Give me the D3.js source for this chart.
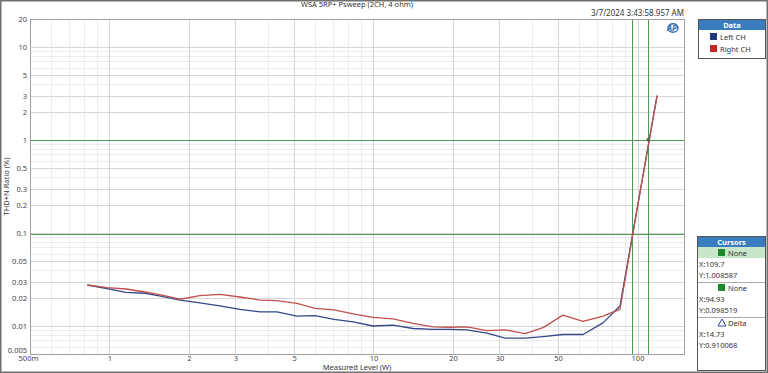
<!DOCTYPE html>
<html><head><meta charset="utf-8">
<script src="https://cdn.jsdelivr.net/npm/d3@7"></script>
<style>
body{margin:0;background:#fff;}
svg{display:block;font-family:"Noto Sans","Open Sans",sans-serif;}
</style></head>
<body>
<svg id="c" width="768" height="373"></svg>
<script>
// ---- data ----
const power = [0.824, 0.979, 1.155, 1.364, 1.581, 1.85, 2.2, 2.62, 3.12, 3.72, 4.31, 5.13, 6.0, 7.09, 8.37, 9.96, 11.86, 14.12, 16.81, 19.49, 22.6, 26.9, 31.5, 37.5, 43.9, 52.2, 62.2, 74.0, 85.8, 99.6, 118.6];
const leftCH = [0.0276, 0.0253, 0.0230, 0.0225, 0.0208, 0.0190, 0.0177, 0.0165, 0.0151, 0.0142, 0.0142, 0.0128, 0.0129, 0.0118, 0.0111, 0.0100, 0.0102, 0.0094, 0.0092, 0.0092, 0.0091, 0.0084, 0.0074, 0.0074, 0.0077, 0.0081, 0.0081, 0.0108, 0.0164, 0.18, 3.0];
const rightCH = [0.0276, 0.0259, 0.0250, 0.0232, 0.0215, 0.0194, 0.0212, 0.0219, 0.0205, 0.0190, 0.0187, 0.0175, 0.0155, 0.0149, 0.0135, 0.0124, 0.0119, 0.0107, 0.0098, 0.0097, 0.0098, 0.0089, 0.0091, 0.0083, 0.0096, 0.0131, 0.0112, 0.0128, 0.0151, 0.18, 3.0];
const seriesNames = ["Left CH", "Right CH"];
const xTickVals = [0.5, 1, 2, 3, 5, 10, 20, 30, 50, 100];
const xTickLabels = ["500m", "1", "2", "3", "5", "10", "20", "30", "50", "100"];
const yTickVals = [20, 10, 5, 3, 2, 1, 0.5, 0.3, 0.2, 0.1, 0.05, 0.03, 0.02, 0.01, 0.005];
const yTickLabels = ["20", "10", "5", "3", "2", "1", "0.5", "0.3", "0.2", "0.1", "0.05", "0.03", "0.02", "0.01", "0.005"];
const cursorX = [109.7, 94.93];
const cursorY = [1.008587, 0.098519];
const cursorRows = [
  {type:"head", text:"None", hl:true}, {type:"val", text:"X:109.7"}, {type:"val", text:"Y:1.008587"},
  {type:"head", text:"None"}, {type:"val", text:"X:94.93"}, {type:"val", text:"Y:0.098519"},
  {type:"delta", text:"Delta"}, {type:"val", text:"X:14.73"}, {type:"val", text:"Y:0.910068"}
];
const title = "WSA 5RP+ Psweep (2CH, 4 ohm)";
const stamp = "3/7/2024 3:43:58.957 AM";

// ---- layout ----
const L = 30, R = 684, T = 19, B = 354;
const svg = d3.select("#c");
const x = d3.scaleLog().domain([0.5, 150]).range([L, R]);
const y = d3.scaleLog().domain([0.005, 20]).range([B, T]);
const colors = ["#34488a", "#c0504d"];
const swatch = ["#1f3a7a", "#c62828"];

// outer frame
svg.append("rect").attr("x",0.75).attr("y",0.75).attr("width",766.5).attr("height",371.5)
  .attr("fill","none").attr("stroke","#707070").attr("stroke-width",1.5);

// grid
const g = svg.append("g");
const minorX = [];
for (let d = 0.1; d <= 100; d *= 10) for (let m = 1; m <= 9; m++) { const v = +(d*m).toPrecision(3); if (v >= 0.5 && v <= 150) minorX.push(v); }
const minorY = [];
for (let d = 0.001; d <= 10; d *= 10) for (let m = 1; m <= 9; m++) { const v = +(d*m).toPrecision(3); if (v >= 0.005 && v <= 20) minorY.push(v); }
g.selectAll(".mx").data(minorX).join("line").attr("x1",d=>Math.round(x(d))+0.5).attr("x2",d=>Math.round(x(d))+0.5).attr("y1",T).attr("y2",B)
  .attr("stroke","#ececec").attr("stroke-width",1);
g.selectAll(".my").data(minorY).join("line").attr("y1",d=>Math.round(y(d))+0.5).attr("y2",d=>Math.round(y(d))+0.5).attr("x1",L).attr("x2",R)
  .attr("stroke","#ececec").attr("stroke-width",1);
g.selectAll(".Mx").data(xTickVals).join("line").attr("x1",d=>Math.round(x(d))+0.5).attr("x2",d=>Math.round(x(d))+0.5).attr("y1",T).attr("y2",B)
  .attr("stroke","#d6d6d6").attr("stroke-width",1);
g.selectAll(".My").data(yTickVals).join("line").attr("y1",d=>Math.round(y(d))+0.5).attr("y2",d=>Math.round(y(d))+0.5).attr("x1",L).attr("x2",R)
  .attr("stroke","#d6d6d6").attr("stroke-width",1);

// cursor lines
svg.selectAll(".cx").data(cursorX).join("line").attr("x1",d=>Math.round(x(d))+0.5).attr("x2",d=>Math.round(x(d))+0.5).attr("y1",T).attr("y2",B)
  .attr("stroke","#4e9a55").attr("stroke-width",1);
svg.selectAll(".cy").data(cursorY).join("line").attr("y1",d=>Math.round(y(d))+0.5).attr("y2",d=>Math.round(y(d))+0.5).attr("x1",L).attr("x2",R)
  .attr("stroke","#4e9a55").attr("stroke-width",1);

// plot border
svg.append("rect").attr("x",L+0.5).attr("y",T+0.5).attr("width",R-L).attr("height",B-T)
  .attr("fill","none").attr("stroke","#a0a0a0");

// axes (labels only)
const xAxis = d3.axisBottom(x).tickValues(xTickVals).tickFormat((d,i)=>xTickLabels[i]).tickSize(0).tickPadding(2);
const ax = svg.append("g").attr("transform",`translate(0,${B})`).call(xAxis);
ax.select(".domain").remove();
ax.selectAll("text").attr("font-size",7.5).attr("fill","#444").attr("font-family","Noto Sans, sans-serif")
  .attr("dx",(d,i)=>i===0?-2:0);
const yAxis = d3.axisLeft(y).tickValues(yTickVals).tickFormat((d,i)=>yTickLabels[i]).tickSize(0).tickPadding(3);
const ay = svg.append("g").attr("transform",`translate(${L},0)`).call(yAxis);
ay.select(".domain").remove();
ay.selectAll("text").attr("font-size",7.5).attr("fill","#444").attr("font-family","Noto Sans, sans-serif")
  .attr("dy",(d,i)=>i===yTickVals.length-1?"-0.15em":"0.32em");

// lines
const line = d3.line().x((d,i)=>x(power[i])).y(d=>y(d));
[leftCH, rightCH].forEach((s,k)=>{
  svg.append("path").datum(s).attr("d",line).attr("fill","none").attr("stroke",colors[k]).attr("stroke-width",1.3)
    .attr("stroke-linejoin","round");
});
// cursor marker
svg.append("rect").attr("x",x(cursorX[0])-1.5).attr("y",y(cursorY[0])-1.5).attr("width",3).attr("height",3).attr("fill","#3d6b3d");

// titles
svg.append("text").attr("x",(L+R)/2).attr("y",7).attr("text-anchor","middle").attr("font-size",7.5).attr("fill","#333").text(title);
svg.append("text").attr("x",R).attr("y",16).attr("text-anchor","end").attr("font-size",8).attr("fill","#333").text(stamp);
svg.append("text").attr("x",(L+R)/2).attr("y",370).attr("text-anchor","middle").attr("font-size",7.5).attr("fill","#333").text("Measured Level (W)");
svg.append("text").attr("transform",`translate(9,${(T+B)/2}) rotate(-90)`).attr("text-anchor","middle").attr("font-size",7.5).attr("fill","#333").text("THD+N Ratio (%)");

// AP logo
const logo = svg.append("g").attr("transform","translate(673,28)");
logo.append("ellipse").attr("rx",5).attr("ry",4.3).attr("fill","none").attr("stroke","#2f6fb5").attr("stroke-width",1.4);
logo.append("text").attr("x",-1).attr("y",2.8).attr("text-anchor","middle").attr("font-size",8).attr("font-weight","bold").attr("font-style","italic").attr("fill","#2f6fb5").text("AP");

// legend
const lg = svg.append("g").attr("transform","translate(698,19)");
lg.append("rect").attr("x",0.5).attr("y",0.5).attr("width",67).attr("height",39).attr("fill","#fff").attr("stroke","#555");
lg.append("rect").attr("x",1).attr("y",1).attr("width",66).attr("height",10).attr("fill","#3a7dbf");
lg.append("text").attr("x",34).attr("y",8.8).attr("text-anchor","middle").attr("font-size",7.5).attr("font-weight","bold").attr("fill","#fff").text("Data");
seriesNames.forEach((n,i)=>{
  lg.append("rect").attr("x",12).attr("y",14+i*12).attr("width",7).attr("height",7).attr("fill",swatch[i]);
  lg.append("text").attr("x",22).attr("y",20.5+i*12).attr("font-size",7.5).attr("fill","#333").text(n);
});

// cursors panel
const cp = svg.append("g").attr("transform","translate(697,236)");
cp.append("rect").attr("x",0.5).attr("y",0.5).attr("width",68).attr("height",134).attr("fill","#fff").attr("stroke","#555");
cp.append("rect").attr("x",1).attr("y",1).attr("width",67).attr("height",10).attr("fill","#3a7dbf");
cp.append("text").attr("x",34.5).attr("y",8.8).attr("text-anchor","middle").attr("font-size",7.5).attr("font-weight","bold").attr("fill","#fff").text("Cursors");
let yy = 11;
cursorRows.forEach((r,i)=>{
  if (r.type !== "val") {
    if (i > 0) cp.append("line").attr("x1",1).attr("x2",68).attr("y1",yy+0.5).attr("y2",yy+0.5).attr("stroke","#aaa");
    if (r.hl) cp.append("rect").attr("x",1).attr("y",yy).attr("width",67).attr("height",11).attr("fill","#c8e6c9");
    if (r.type === "head") {
      cp.append("rect").attr("x",21).attr("y",yy+2).attr("width",7).attr("height",7).attr("fill","#1a8a2a");
      cp.append("text").attr("x",31).attr("y",yy+8.5).attr("font-size",7.5).attr("fill","#333").text(r.text);
    } else {
      cp.append("path").attr("d",`M${21},${yy+9} L${25},${yy+2} L${29},${yy+9} Z`).attr("fill","none").attr("stroke","#2d4a9a").attr("stroke-width",1);
      cp.append("text").attr("x",31).attr("y",yy+8.5).attr("font-size",7.5).attr("fill","#333").text(r.text);
    }
    yy += 12;
  } else {
    cp.append("text").attr("x",2).attr("y",yy+7.5).attr("font-size",7.5).attr("fill","#333").text(r.text);
    yy += 11.5;
  }
});
</script>
</body></html>
